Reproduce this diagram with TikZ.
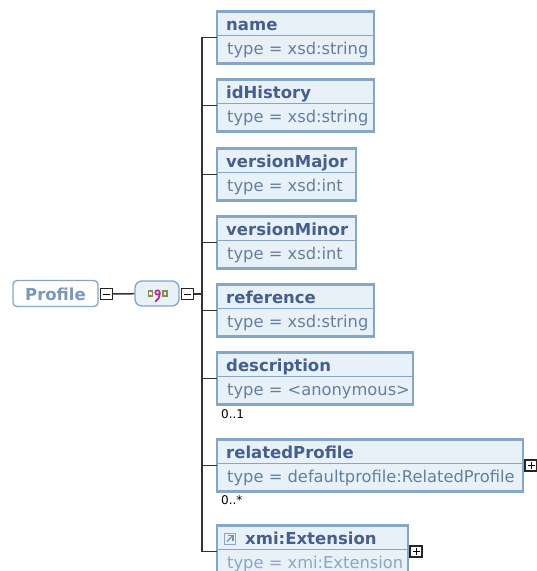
\documentclass[tikz,border=0pt]{standalone}
\usepackage{fontspec}
\setmainfont{DejaVu Sans}
\definecolor{boxline}{HTML}{86A6C8}
\definecolor{boxfill}{HTML}{E8F0F8}
\definecolor{titleink}{HTML}{46608C}
\definecolor{typeink}{HTML}{64809E}
\definecolor{fadeink}{HTML}{8CA6C4}
\definecolor{iconink}{HTML}{8C8A50}
\definecolor{iconmark}{HTML}{B0288C}
\tikzset{
  elem/.style={draw=boxline, fill=boxfill, line width=2.6pt, rectangle, anchor=north west, minimum height=52pt, inner sep=0pt, outer sep=0pt},
  wire/.style={line width=1.5pt, black!80},
  toggle/.style={draw=black!85, fill=white, line width=1.3pt, minimum width=12pt, minimum height=11pt, inner sep=0pt, outer sep=0pt},
  eltitle/.style={anchor=base west, font=\bfseries\fontsize{16.5}{18}\selectfont, text=titleink, inner sep=0pt},
  eltype/.style={anchor=base west, font=\fontsize{16.3}{18}\selectfont, text=typeink, inner sep=0pt},
  occurs/.style={anchor=base west, font=\fontsize{12}{14}\selectfont, text=black, inner sep=0pt}
}
\begin{document}
\begin{tikzpicture}[x=1pt,y=-1pt]
\useasboundingbox (0,0) rectangle (537,571);
\clip (0,0) rectangle (537,571);
% Raiz
\node[draw=boxline, fill=white, line width=1.3pt, rounded corners=4pt, minimum width=85pt, minimum height=26pt, inner sep=0pt] (profile) at (55.5,293.5) {};
\node[anchor=center, font=\bfseries\fontsize{16.5}{18}\selectfont, text=boxline!80!titleink, inner sep=0pt] (profiletxt) at (55.5,294.5) {Profile};
\node[toggle] (rootminus) at (106.5,294) {};
\draw[line width=1pt] (103,294) -- (110,294);
% Secuencia
\node[draw=boxline, fill=boxfill, line width=1.3pt, rounded corners=7pt, minimum width=44pt, minimum height=25pt, inner sep=0pt] (seq) at (157,293.5) {};
\draw[iconink, line width=1.3pt] (148.5,291) rectangle (152.5,296);
\draw[iconink, line width=1.3pt] (163,291) rectangle (167,296);
\draw[iconmark, line width=1.6pt] (157.5,292.5) circle (2.2);
\draw[iconmark, line width=1.7pt, line cap=round] (159.8,293) .. controls (159.8,297) and (158,300) .. (155.5,301.5);
\node[toggle] (seqminus) at (187.5,294) {};
\draw[line width=1pt] (184,294) -- (191,294);
\coordinate (trunk) at (202,294);
\draw[wire] (rootminus) -- (seq);
\draw[wire] (seqminus) -- (trunk);
% Elementos
\foreach \nm/\wid/\top/\title/\kind in {
  name/157/11.5/name/xsd:string,
  idhistory/157/79.5/idHistory/xsd:string,
  major/139/148.5/versionMajor/xsd:int,
  minor/139/216.5/versionMinor/xsd:int,
  reference/157/284.5/reference/xsd:string,
  description/196/352.5/description/<anonymous>,
  related/306/439.5/relatedProfile/defaultprofile:RelatedProfile} {
    \node[elem, minimum width=\wid pt] (\nm) at (217,\top) {};
    \draw[boxline, line width=1.2pt] (217,\top+24) -- (217+\wid,\top+24);
    \node[eltitle] (\nm title) at (226,\top+19) {\title};
    \node[eltype] (\nm type) at (227,\top+43) {type = \kind};
    \draw[wire] (trunk) |- (\nm.west);
}
% Extension
\node[elem, minimum width=191pt] (extension) at (217,525.5) {};
\draw[boxline, line width=1.2pt] (217,549.5) -- (408,549.5);
\node[eltitle] (extensiontitle) at (245,544.5) {xmi:Extension};
\node[eltype, text=fadeink] (extensiontype) at (227,568.5) {type = xmi:Extension};
\draw[wire] (trunk) |- (extension.west);
\draw[fadeink, line width=1pt] (224,533) rectangle (235,544);
\draw[boxline!70!titleink, line width=1.3pt] (227,541.5) -- (232.5,536);
\draw[boxline!70!titleink, line width=1.3pt] (228,535.5) -- (233,535.5) -- (233,540.5);
% Ocurrencias y botones
\node[occurs] (descocc) at (221,418) {0..1};
\node[occurs] (relatedocc) at (221,504) {0..*};
\node[toggle] (relatedplus) at (531,465.5) {};
\draw[line width=1pt] (527.5,465.5) -- (534.5,465.5) (531,462) -- (531,469);
\node[toggle] (extplus) at (416,551.5) {};
\draw[line width=1pt] (412.5,551.5) -- (419.5,551.5) (416,548) -- (416,555);
\end{tikzpicture}
\end{document}
